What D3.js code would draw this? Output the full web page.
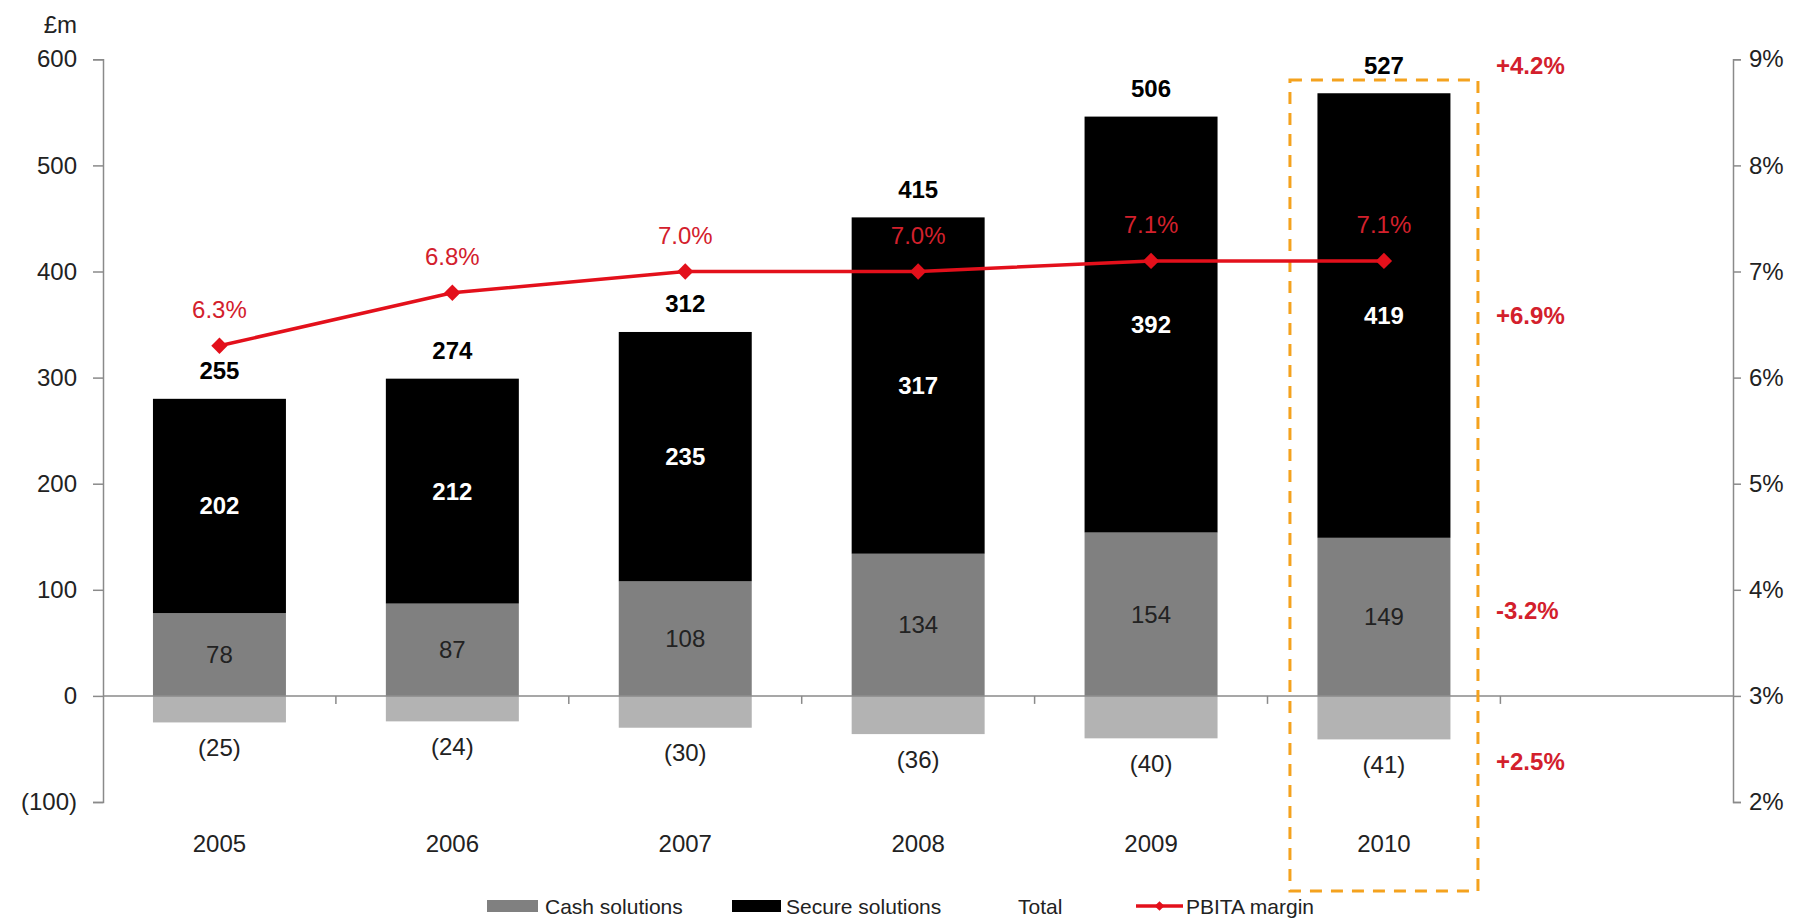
<!DOCTYPE html>
<html>
<head>
<meta charset="utf-8">
<script src="https://cdn.jsdelivr.net/npm/d3@7"></script>
<style>
  html, body { margin: 0; padding: 0; background: #fff; }
  svg { display: block; font-family: "Liberation Sans", Arial, sans-serif; }
</style>
</head>
<body>
<svg id="chart" width="1799" height="922"></svg>
<script>
// ---- data ----
const years = ["2005", "2006", "2007", "2008", "2009", "2010"];
const cashSolutions = [78, 87, 108, 134, 154, 149];
const secureSolutions = [202, 212, 235, 317, 392, 419];
const centralCosts = [-25, -24, -30, -36, -40, -41];
const totals = [255, 274, 312, 415, 506, 527];
const pbitaMargin = [6.3, 6.8, 7.0, 7.0, 7.1, 7.1];
const leftTicks = [-100, 0, 100, 200, 300, 400, 500, 600];
const rightTicks = [2, 3, 4, 5, 6, 7, 8, 9];
const growthLabels = ["+4.2%", "+6.9%", "-3.2%", "+2.5%"]; // total, secure, cash, costs (2010)
const legendItems = ["Cash solutions", "Secure solutions", "Total", "PBITA margin"];

// ---- layout ----
const svg = d3.select("#chart");
const axisLeftX = 103, axisRightX = 1733;
const plotTop = 59.3, plotBottom = 802;
const step = 232.9;

const x = d3.scaleBand().domain(years)
  .range([axisLeftX, axisLeftX + step * years.length])
  .paddingInner(0.429).paddingOuter(0.2145);
const y = d3.scaleLinear().domain([-100, 600]).range([plotBottom, plotTop]);
const yR = d3.scaleLinear().domain([2, 9]).range([plotBottom, plotTop]);

const axisColor = "#8a8a8a";
const red = "#e3101b";
const redText = "#d3202c";
const fontSize = 24;

const rows = years.map((yr, i) => ({
  year: yr, cash: cashSolutions[i], secure: secureSolutions[i],
  neg: centralCosts[i], total: totals[i], margin: pbitaMargin[i]
}));

// ---- left axis ----
const fmtLeft = v => v < 0 ? "(" + Math.abs(v) + ")" : String(v);
const gL = svg.append("g").attr("transform", `translate(${axisLeftX},0)`)
  .call(d3.axisLeft(y).tickValues(leftTicks).tickFormat(fmtLeft).tickSize(10).tickPadding(16));
gL.select(".domain").attr("stroke", axisColor).attr("stroke-width", 1.5);
gL.selectAll(".tick line").attr("stroke", axisColor).attr("stroke-width", 1.5);
gL.selectAll(".tick text").attr("fill", "#222").attr("font-size", fontSize)
  .attr("font-family", "Liberation Sans, Arial, sans-serif");

// ---- right axis ----
const gR = svg.append("g").attr("transform", `translate(${axisRightX},0)`)
  .call(d3.axisRight(yR).tickValues(rightTicks).tickFormat(d => d + "%").tickSize(8).tickPadding(8));
gR.select(".domain").attr("stroke", axisColor).attr("stroke-width", 1.5);
gR.selectAll(".tick line").attr("stroke", axisColor).attr("stroke-width", 1.5);
gR.selectAll(".tick text").attr("fill", "#222").attr("font-size", fontSize)
  .attr("font-family", "Liberation Sans, Arial, sans-serif");

// unit label
svg.append("text").attr("x", 77).attr("y", 24).attr("text-anchor", "end")
  .attr("dominant-baseline", "central").attr("font-size", fontSize).attr("fill", "#222").text("£m");

// ---- bars ----
const barG = svg.append("g");
barG.selectAll("rect.neg").data(rows).join("rect").attr("class", "neg")
  .attr("x", d => x(d.year)).attr("width", x.bandwidth())
  .attr("y", y(0)).attr("height", d => y(d.neg) - y(0)).attr("fill", "#b3b3b3");
barG.selectAll("rect.cash").data(rows).join("rect").attr("class", "cash")
  .attr("x", d => x(d.year)).attr("width", x.bandwidth())
  .attr("y", d => y(d.cash)).attr("height", d => y(0) - y(d.cash)).attr("fill", "#808080");
barG.selectAll("rect.secure").data(rows).join("rect").attr("class", "secure")
  .attr("x", d => x(d.year)).attr("width", x.bandwidth())
  .attr("y", d => y(d.cash + d.secure)).attr("height", d => y(d.cash) - y(d.cash + d.secure)).attr("fill", "#000");

// ---- x axis line and ticks ----
svg.append("line").attr("x1", axisLeftX).attr("x2", axisRightX).attr("y1", y(0)).attr("y2", y(0))
  .attr("stroke", axisColor).attr("stroke-width", 1.5);
svg.append("g").selectAll("line").data(years.slice(1).concat(["end"])).join("line")
  .attr("x1", (d, i) => axisLeftX + step * (i + 1)).attr("x2", (d, i) => axisLeftX + step * (i + 1))
  .attr("y1", y(0)).attr("y2", y(0) + 8).attr("stroke", axisColor).attr("stroke-width", 1.5);

// year labels
svg.append("g").selectAll("text").data(rows).join("text")
  .attr("x", d => x(d.year) + x.bandwidth() / 2).attr("y", 843)
  .attr("text-anchor", "middle").attr("dominant-baseline", "central")
  .attr("font-size", fontSize).attr("fill", "#222").text(d => d.year);

// ---- value labels ----
const cx = d => x(d.year) + x.bandwidth() / 2;
const lab = svg.append("g").attr("text-anchor", "middle").attr("dominant-baseline", "central").attr("font-size", fontSize);
lab.selectAll("text.cashLab").data(rows).join("text").attr("class", "cashLab")
  .attr("x", cx).attr("y", d => y(d.cash / 2)).attr("fill", "#222").text(d => d.cash);
lab.selectAll("text.secLab").data(rows).join("text").attr("class", "secLab")
  .attr("x", cx).attr("y", d => y(d.cash + d.secure / 2)).attr("fill", "#fff").attr("font-weight", "bold").text(d => d.secure);
lab.selectAll("text.negLab").data(rows).join("text").attr("class", "negLab")
  .attr("x", cx).attr("y", d => y(d.neg) + 25).attr("fill", "#222").text(d => "(" + Math.abs(d.neg) + ")");
lab.selectAll("text.totLab").data(rows).join("text").attr("class", "totLab")
  .attr("x", cx).attr("y", d => y(d.cash + d.secure) - 28).attr("fill", "#000").attr("font-weight", "bold").text(d => d.total);

// ---- highlight box around 2010 ----
const last = rows[rows.length - 1];
svg.append("rect")
  .attr("x", cx(last) - 94).attr("width", 188)
  .attr("y", 80).attr("height", 811)
  .attr("fill", "none").attr("stroke", "#f4a21e").attr("stroke-width", 3)
  .attr("stroke-dasharray", "12,9");

// ---- PBITA margin line ----
const line = d3.line().x(cx).y(d => yR(d.margin));
svg.append("path").datum(rows).attr("d", line).attr("fill", "none").attr("stroke", red).attr("stroke-width", 3.5);
svg.append("g").selectAll("path").data(rows).join("path")
  .attr("d", d3.symbol(d3.symbolDiamond2 || d3.symbolDiamond, 170))
  .attr("transform", d => `translate(${cx(d)},${yR(d.margin)})`)
  .attr("fill", red);
lab.selectAll("text.mLab").data(rows).join("text").attr("class", "mLab")
  .attr("x", cx).attr("y", d => yR(d.margin) - 36).attr("fill", redText).text(d => d.margin.toFixed(1) + "%");

// ---- growth annotations (2010) ----
const growthY = [
  y(last.cash + last.secure) - 28,
  y(last.cash + last.secure / 2),
  y(last.cash / 2) - 6,
  y(last.neg) + 22
];
svg.append("g").selectAll("text").data(growthLabels).join("text")
  .attr("x", 1496).attr("y", (d, i) => growthY[i])
  .attr("dominant-baseline", "central").attr("font-size", fontSize).attr("font-weight", "bold")
  .attr("fill", redText).text(d => d);

// ---- legend ----
const lg = svg.append("g").attr("font-size", 21).attr("fill", "#222");
const ly = 906;
lg.append("rect").attr("x", 487).attr("y", ly - 6).attr("width", 51).attr("height", 12).attr("fill", "#808080");
lg.append("text").attr("x", 545).attr("y", ly).attr("dominant-baseline", "central").text(legendItems[0]);
lg.append("rect").attr("x", 732).attr("y", ly - 6).attr("width", 49).attr("height", 12).attr("fill", "#000");
lg.append("text").attr("x", 786).attr("y", ly).attr("dominant-baseline", "central").text(legendItems[1]);
lg.append("text").attr("x", 1018).attr("y", ly).attr("dominant-baseline", "central").text(legendItems[2]);
lg.append("line").attr("x1", 1136).attr("x2", 1183).attr("y1", ly).attr("y2", ly).attr("stroke", red).attr("stroke-width", 3.5);
lg.append("path").attr("d", d3.symbol(d3.symbolDiamond2 || d3.symbolDiamond, 60))
  .attr("transform", `translate(1159.5,${ly})`).attr("fill", red);
lg.append("text").attr("x", 1186).attr("y", ly).attr("dominant-baseline", "central").text(legendItems[3]);
</script>
</body>
</html>
